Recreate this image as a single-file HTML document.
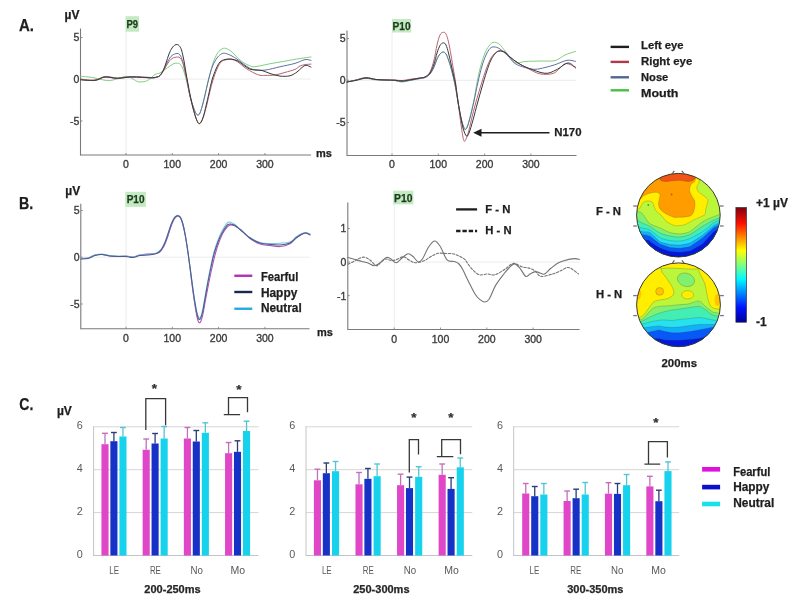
<!DOCTYPE html>
<html><head><meta charset="utf-8"><title>Figure</title>
<style>
html,body{margin:0;padding:0;background:#fff;}
body{width:800px;height:606px;overflow:hidden;font-family:"Liberation Sans", sans-serif;}
svg{display:block;filter:blur(0.3px);}
</style></head><body>
<svg width="800" height="606" viewBox="0 0 800 606" font-family='"Liberation Sans", sans-serif'>
<rect x="0" y="0" width="800" height="606" fill="#ffffff"/>
<text x="19" y="30.6" font-size="16.6" font-weight="bold" fill="#1e1e1e" text-anchor="start" textLength="15" lengthAdjust="spacingAndGlyphs" stroke="#1e1e1e" stroke-width="0.25">A.</text>
<text x="64.5" y="18.5" font-size="12" font-weight="bold" fill="#1e1e1e" text-anchor="start" stroke="#1e1e1e" stroke-width="0.25">µV</text>
<line x1="80.5" y1="79.1" x2="311" y2="79.1" stroke="#ececec" stroke-width="1"/>
<line x1="126" y1="30.5" x2="126" y2="155" stroke="#ececec" stroke-width="1"/>
<line x1="80.5" y1="28.5" x2="80.5" y2="155.5" stroke="#7a7a7a" stroke-width="1.1"/>
<line x1="80.5" y1="155" x2="311" y2="155" stroke="#7a7a7a" stroke-width="1.1"/>
<line x1="80.5" y1="37.5" x2="82.5" y2="37.5" stroke="#7a7a7a" stroke-width="0.8"/>
<text x="79.3" y="41.4" font-size="10.5" font-weight="normal" fill="#3c3c3c" text-anchor="end" stroke="#3c3c3c" stroke-width="0.35">5</text>
<line x1="80.5" y1="79.1" x2="82.5" y2="79.1" stroke="#7a7a7a" stroke-width="0.8"/>
<text x="79.3" y="83" font-size="10.5" font-weight="normal" fill="#3c3c3c" text-anchor="end" stroke="#3c3c3c" stroke-width="0.35">0</text>
<line x1="80.5" y1="121" x2="82.5" y2="121" stroke="#7a7a7a" stroke-width="0.8"/>
<text x="79.3" y="124.9" font-size="10.5" font-weight="normal" fill="#3c3c3c" text-anchor="end" stroke="#3c3c3c" stroke-width="0.35">-5</text>
<line x1="126" y1="155" x2="126" y2="153" stroke="#7a7a7a" stroke-width="0.8"/>
<text x="126" y="167.8" font-size="10.5" font-weight="normal" fill="#3c3c3c" text-anchor="middle" stroke="#3c3c3c" stroke-width="0.35">0</text>
<line x1="172.3" y1="155" x2="172.3" y2="153" stroke="#7a7a7a" stroke-width="0.8"/>
<text x="172.3" y="167.8" font-size="10.5" font-weight="normal" fill="#3c3c3c" text-anchor="middle" stroke="#3c3c3c" stroke-width="0.35">100</text>
<line x1="218.6" y1="155" x2="218.6" y2="153" stroke="#7a7a7a" stroke-width="0.8"/>
<text x="218.6" y="167.8" font-size="10.5" font-weight="normal" fill="#3c3c3c" text-anchor="middle" stroke="#3c3c3c" stroke-width="0.35">200</text>
<line x1="264.9" y1="155" x2="264.9" y2="153" stroke="#7a7a7a" stroke-width="0.8"/>
<text x="264.9" y="167.8" font-size="10.5" font-weight="normal" fill="#3c3c3c" text-anchor="middle" stroke="#3c3c3c" stroke-width="0.35">300</text>
<rect x="125.5" y="16.2" width="13.5" height="15.5" fill="#c4eac4"/>
<text x="132.25" y="27.8" font-size="11" font-weight="bold" fill="#1c3a1c" text-anchor="middle" textLength="11.6" lengthAdjust="spacingAndGlyphs" stroke="#1c3a1c" stroke-width="0.25">P9</text>
<text x="316" y="157" font-size="11" font-weight="bold" fill="#1e1e1e" text-anchor="start" stroke="#1e1e1e" stroke-width="0.25">ms</text>
<path d="M80.5,76.3C82.5,76.5 88,76.78 92.5,77.5C97,78.22 103.33,80.38 107.5,80.6C111.67,80.82 114.37,79.52 117.5,78.8C120.63,78.08 123.72,76.27 126.3,76.3C128.88,76.33 130.92,78.07 133,79C135.08,79.93 136.38,81.63 138.8,81.9C141.22,82.17 144.8,81.83 147.5,80.6C150.2,79.37 152.92,75.77 155,74.5C157.08,73.23 158.33,73.83 160,73C161.67,72.17 163.33,70.67 165,69.5C166.67,68.33 168.5,67 170,66C171.5,65 172.75,63.97 174,63.5C175.25,63.03 176.5,63.12 177.5,63.2C178.5,63.28 179.17,63.2 180,64C180.83,64.8 181.67,66.17 182.5,68C183.33,69.83 184.17,72.17 185,75C185.83,77.83 186.67,81.5 187.5,85C188.33,88.5 189.08,92.5 190,96C190.92,99.5 192.08,103.25 193,106C193.92,108.75 194.7,111 195.5,112.5C196.3,114 197.05,114.92 197.8,115C198.55,115.08 199.22,114.67 200,113C200.78,111.33 201.67,108 202.5,105C203.33,102 204.17,98.5 205,95C205.83,91.5 206.67,87.5 207.5,84C208.33,80.5 209.08,77.5 210,74C210.92,70.5 211.83,66.33 213,63C214.17,59.67 215.67,56.25 217,54C218.33,51.75 219.57,50.45 221,49.5C222.43,48.55 223.77,47.88 225.6,48.3C227.43,48.72 229.93,50.35 232,52C234.07,53.65 236,56.37 238,58.2C240,60.03 242.08,61.77 244,63C245.92,64.23 247.67,64.97 249.5,65.6C251.33,66.22 251.58,67.06 255,66.75C258.42,66.44 265,64.69 270,63.75C275,62.81 280,61.98 285,61.1C290,60.23 295.67,59.18 300,58.5C304.33,57.82 309.17,57.25 311,57" fill="none" stroke="#80d080" stroke-width="1" stroke-linejoin="round" stroke-linecap="round"/>
<path d="M80.5,79.5C82.92,79.67 90.92,80.92 95,80.5C99.08,80.08 101.25,77.33 105,77C108.75,76.67 113.33,78.5 117.5,78.5C121.67,78.5 125.83,77.17 130,77C134.17,76.83 138.75,77.33 142.5,77.5C146.25,77.67 150.08,78.08 152.5,78C154.92,77.92 155.75,77.42 157,77C158.25,76.58 158.83,76.83 160,75.5C161.17,74.17 162.67,71.42 164,69C165.33,66.58 166.67,63.25 168,61C169.33,58.75 170.5,56.75 172,55.5C173.5,54.25 175.67,53.58 177,53.5C178.33,53.42 179.08,53.75 180,55C180.92,56.25 181.67,58.33 182.5,61C183.33,63.67 184.17,67.33 185,71C185.83,74.67 186.67,78.83 187.5,83C188.33,87.17 189.08,92.17 190,96C190.92,99.83 192.08,103.25 193,106C193.92,108.75 194.7,111 195.5,112.5C196.3,114 197.05,114.92 197.8,115C198.55,115.08 199.22,114.67 200,113C200.78,111.33 201.67,108 202.5,105C203.33,102 204.17,98.5 205,95C205.83,91.5 206.67,87.5 207.5,84C208.33,80.5 209.08,77.17 210,74C210.92,70.83 211.83,67.67 213,65C214.17,62.33 215.75,59.75 217,58C218.25,56.25 219.28,55.3 220.5,54.5C221.72,53.7 222.55,53.03 224.3,53.2C226.05,53.37 228.72,54.4 231,55.5C233.28,56.6 235.83,58.3 238,59.8C240.17,61.3 242.08,63.13 244,64.5C245.92,65.87 247.67,67.12 249.5,68C251.33,68.88 252.42,69.4 255,69.75C257.58,70.1 260.83,70.6 265,70.1C269.17,69.6 275,67.87 280,66.75C285,65.63 290.83,64.59 295,63.4C299.17,62.21 302.33,60.1 305,59.6C307.67,59.1 310,60.27 311,60.4" fill="none" stroke="#6070a6" stroke-width="1" stroke-linejoin="round" stroke-linecap="round"/>
<path d="M80.5,79.5C82.92,79.58 90.92,80.5 95,80C99.08,79.5 101.25,76.83 105,76.5C108.75,76.17 113.33,78 117.5,78C121.67,78 125.83,76.67 130,76.5C134.17,76.33 138.75,76.83 142.5,77C146.25,77.17 150.08,77.5 152.5,77.5C154.92,77.5 155.75,77.33 157,77C158.25,76.67 158.83,76.67 160,75.5C161.17,74.33 162.67,72.08 164,70C165.33,67.92 166.67,64.92 168,63C169.33,61.08 170.42,59.5 172,58.5C173.58,57.5 176.17,57.08 177.5,57C178.83,56.92 179.17,57.17 180,58C180.83,58.83 181.67,59.83 182.5,62C183.33,64.17 184.17,67.5 185,71C185.83,74.5 186.67,78.83 187.5,83C188.33,87.17 189.08,91.83 190,96C190.92,100.17 192,104.25 193,108C194,111.75 195.03,115.9 196,118.5C196.97,121.1 197.92,123.02 198.8,123.6C199.68,124.18 200.43,123.43 201.3,122C202.17,120.57 203.05,118 204,115C204.95,112 206,108 207,104C208,100 209,95 210,91C211,87 211.83,83.67 213,80C214.17,76.33 215.67,72 217,69C218.33,66 219.5,63.53 221,62C222.5,60.47 224.17,60.22 226,59.8C227.83,59.38 230,59.13 232,59.5C234,59.87 236,60.75 238,62C240,63.25 242.08,65.58 244,67C245.92,68.42 247.67,69.42 249.5,70.5C251.33,71.58 253.25,72.7 255,73.5C256.75,74.3 258.33,74.98 260,75.3C261.67,75.62 262.5,75.45 265,75.4C267.5,75.35 271.67,75.5 275,75C278.33,74.5 281.67,73.33 285,72.4C288.33,71.47 292.5,70.47 295,69.4C297.5,68.33 298.33,66.79 300,66C301.67,65.21 303.17,64.97 305,64.65C306.83,64.33 310,64.19 311,64.1" fill="none" stroke="#b86472" stroke-width="1" stroke-linejoin="round" stroke-linecap="round"/>
<path d="M80.5,79.8C82.92,79.88 90.92,80.77 95,80.3C99.08,79.83 101.25,77.33 105,77C108.75,76.67 113.33,78.3 117.5,78.3C121.67,78.3 125.83,77.17 130,77C134.17,76.83 138.75,77.17 142.5,77.3C146.25,77.43 150.08,77.85 152.5,77.8C154.92,77.75 155.75,77.38 157,77C158.25,76.62 159,76.5 160,75.5C161,74.5 162,73.08 163,71C164,68.92 165,65.83 166,63C167,60.17 168,56.5 169,54C170,51.5 171,49.5 172,48C173,46.5 174.17,45.57 175,45C175.83,44.43 176.33,44.52 177,44.6C177.67,44.68 178.25,44.6 179,45.5C179.75,46.4 180.67,47.42 181.5,50C182.33,52.58 183.25,57.17 184,61C184.75,64.83 185.33,69.17 186,73C186.67,76.83 187.25,80 188,84C188.75,88 189.67,93 190.5,97C191.33,101 192.08,104.5 193,108C193.92,111.5 195.07,115.45 196,118C196.93,120.55 197.77,122.63 198.6,123.3C199.43,123.97 200.18,123.22 201,122C201.82,120.78 202.67,118.67 203.5,116C204.33,113.33 205.08,109.83 206,106C206.92,102.17 208,97.33 209,93C210,88.67 210.83,84 212,80C213.17,76 214.67,72 216,69C217.33,66 218.5,63.58 220,62C221.5,60.42 223.17,60 225,59.5C226.83,59 228.83,58.75 231,59C233.17,59.25 235.83,59.92 238,61C240.17,62.08 242.08,64.17 244,65.5C245.92,66.83 247.67,68.25 249.5,69C251.33,69.75 252.92,69.75 255,70C257.08,70.25 259.5,69.92 262,70.5C264.5,71.08 267,72.57 270,73.5C273,74.43 276.67,75.72 280,76.1C283.33,76.47 287.17,76.43 290,75.75C292.83,75.07 295,73.38 297,72C299,70.62 300.5,68.62 302,67.5C303.5,66.38 304.5,65.32 306,65.25C307.5,65.18 310.17,66.79 311,67.1" fill="none" stroke="#383838" stroke-width="1" stroke-linejoin="round" stroke-linecap="round"/>
<line x1="347" y1="80.3" x2="576.5" y2="80.3" stroke="#ececec" stroke-width="1"/>
<line x1="392" y1="32.5" x2="392" y2="155.5" stroke="#ececec" stroke-width="1"/>
<line x1="347" y1="30.5" x2="347" y2="156" stroke="#7a7a7a" stroke-width="1.1"/>
<line x1="347" y1="155.5" x2="576.5" y2="155.5" stroke="#7a7a7a" stroke-width="1.1"/>
<line x1="347" y1="38.5" x2="349" y2="38.5" stroke="#7a7a7a" stroke-width="0.8"/>
<text x="345.7" y="42.4" font-size="10.5" font-weight="normal" fill="#3c3c3c" text-anchor="end" stroke="#3c3c3c" stroke-width="0.35">5</text>
<line x1="347" y1="80.3" x2="349" y2="80.3" stroke="#7a7a7a" stroke-width="0.8"/>
<text x="345.7" y="84.2" font-size="10.5" font-weight="normal" fill="#3c3c3c" text-anchor="end" stroke="#3c3c3c" stroke-width="0.35">0</text>
<line x1="347" y1="122.5" x2="349" y2="122.5" stroke="#7a7a7a" stroke-width="0.8"/>
<text x="345.7" y="126.4" font-size="10.5" font-weight="normal" fill="#3c3c3c" text-anchor="end" stroke="#3c3c3c" stroke-width="0.35">-5</text>
<line x1="392" y1="155.5" x2="392" y2="153.5" stroke="#7a7a7a" stroke-width="0.8"/>
<text x="392" y="168.2" font-size="10.5" font-weight="normal" fill="#3c3c3c" text-anchor="middle" stroke="#3c3c3c" stroke-width="0.35">0</text>
<line x1="438.3" y1="155.5" x2="438.3" y2="153.5" stroke="#7a7a7a" stroke-width="0.8"/>
<text x="438.3" y="168.2" font-size="10.5" font-weight="normal" fill="#3c3c3c" text-anchor="middle" stroke="#3c3c3c" stroke-width="0.35">100</text>
<line x1="484.6" y1="155.5" x2="484.6" y2="153.5" stroke="#7a7a7a" stroke-width="0.8"/>
<text x="484.6" y="168.2" font-size="10.5" font-weight="normal" fill="#3c3c3c" text-anchor="middle" stroke="#3c3c3c" stroke-width="0.35">200</text>
<line x1="530.9" y1="155.5" x2="530.9" y2="153.5" stroke="#7a7a7a" stroke-width="0.8"/>
<text x="530.9" y="168.2" font-size="10.5" font-weight="normal" fill="#3c3c3c" text-anchor="middle" stroke="#3c3c3c" stroke-width="0.35">300</text>
<rect x="392" y="19" width="19.2" height="13.5" fill="#c4eac4"/>
<text x="401.6" y="29.7" font-size="11" font-weight="bold" fill="#1c3a1c" text-anchor="middle" textLength="18" lengthAdjust="spacingAndGlyphs" stroke="#1c3a1c" stroke-width="0.25">P10</text>
<path d="M347,82C348.5,81.75 352.83,81.08 356,80.5C359.17,79.92 362.67,78.58 366,78.5C369.33,78.42 372.67,79.75 376,80C379.33,80.25 382.83,79.92 386,80C389.17,80.08 392.33,80.17 395,80.5C397.67,80.83 399.17,82.08 402,82C404.83,81.92 409,80.58 412,80C415,79.42 417.83,78.92 420,78.5C422.17,78.08 423.33,78.25 425,77.5C426.67,76.75 428.5,75.75 430,74C431.5,72.25 432.83,69.5 434,67C435.17,64.5 436,61.17 437,59C438,56.83 438.97,55.17 440,54C441.03,52.83 442.2,52 443.2,52C444.2,52 445.12,52.67 446,54C446.88,55.33 447.67,57.67 448.5,60C449.33,62.33 450.08,64.67 451,68C451.92,71.33 453.17,76.33 454,80C454.83,83.67 455.25,85.83 456,90C456.75,94.17 457.67,100.33 458.5,105C459.33,109.67 460.03,113.92 461,118C461.97,122.08 463.3,128 464.3,129.5C465.3,131 466.05,129.08 467,127C467.95,124.92 468.83,121.5 470,117C471.17,112.5 472.75,106.17 474,100C475.25,93.83 476.33,85.83 477.5,80C478.67,74.17 479.75,69.5 481,65C482.25,60.5 483.67,56.17 485,53C486.33,49.83 487.67,47.77 489,46C490.33,44.23 491.33,42.73 493,42.4C494.67,42.07 496.83,42.4 499,44C501.17,45.6 503.33,48.92 506,52C508.67,55.08 511.83,60.92 515,62.5C518.17,64.08 520.83,61.75 525,61.5C529.17,61.25 535,61.15 540,61C545,60.85 550.83,61.6 555,60.6C559.17,59.6 561.58,56.53 565,55C568.42,53.47 573.75,52 575.5,51.4" fill="none" stroke="#80d080" stroke-width="1" stroke-linejoin="round" stroke-linecap="round"/>
<path d="M347,82C348.5,81.67 352.83,80.75 356,80C359.17,79.25 362.67,77.58 366,77.5C369.33,77.42 372.67,79.08 376,79.5C379.33,79.92 382.83,79.83 386,80C389.17,80.17 392.33,80.25 395,80.5C397.67,80.75 399.17,81.58 402,81.5C404.83,81.42 409,80.5 412,80C415,79.5 417.83,78.92 420,78.5C422.17,78.08 423.33,78.25 425,77.5C426.67,76.75 428.5,75.75 430,74C431.5,72.25 432.83,69.5 434,67C435.17,64.5 436,61.17 437,59C438,56.83 438.97,55.17 440,54C441.03,52.83 442.2,52 443.2,52C444.2,52 445.12,52.67 446,54C446.88,55.33 447.67,57.67 448.5,60C449.33,62.33 450.08,64.67 451,68C451.92,71.33 453.17,76.33 454,80C454.83,83.67 455.25,85.83 456,90C456.75,94.17 457.67,100.33 458.5,105C459.33,109.67 460,114.07 461,118C462,121.93 463.5,127.02 464.5,128.6C465.5,130.18 466.08,129.27 467,127.5C467.92,125.73 468.83,122.42 470,118C471.17,113.58 472.67,107 474,101C475.33,95 476.67,87.83 478,82C479.33,76.17 480.67,70.5 482,66C483.33,61.5 484.67,57.92 486,55C487.33,52.08 488.67,49.85 490,48.5C491.33,47.15 492.33,46.82 494,46.9C495.67,46.98 497.67,47.48 500,49C502.33,50.52 505.5,53.58 508,56C510.5,58.42 512.17,61.58 515,63.5C517.83,65.42 521.67,66.53 525,67.5C528.33,68.47 531.67,69.3 535,69.3C538.33,69.3 541.67,68.27 545,67.5C548.33,66.73 551.33,65.9 555,64.7C558.67,63.5 563.58,60.85 567,60.3C570.42,59.75 574.08,61.22 575.5,61.4" fill="none" stroke="#6070a6" stroke-width="1" stroke-linejoin="round" stroke-linecap="round"/>
<path d="M347,82C348.5,81.67 352.83,80.67 356,80C359.17,79.33 362.67,78.08 366,78C369.33,77.92 372.67,79.17 376,79.5C379.33,79.83 382.83,79.92 386,80C389.17,80.08 392.33,79.92 395,80C397.67,80.08 399.17,80.67 402,80.5C404.83,80.33 409,79.42 412,79C415,78.58 417.83,78.33 420,78C422.17,77.67 423.33,78 425,77C426.67,76 428.5,74.83 430,72C431.5,69.17 432.83,64.5 434,60C435.17,55.5 436,49.17 437,45C438,40.83 438.97,37.12 440,35C441.03,32.88 442.2,32.47 443.2,32.3C444.2,32.13 445.12,32.38 446,34C446.88,35.62 447.67,38.5 448.5,42C449.33,45.5 450.17,50.33 451,55C451.83,59.67 452.75,65.5 453.5,70C454.25,74.5 454.83,77.33 455.5,82C456.17,86.67 456.83,92.83 457.5,98C458.17,103.17 458.83,108 459.5,113C460.17,118 460.78,123.42 461.5,128C462.22,132.58 463.05,138.67 463.8,140.5C464.55,142.33 465.13,140.75 466,139C466.87,137.25 467.92,134 469,130C470.08,126 471.25,120 472.5,115C473.75,110 475.08,105 476.5,100C477.92,95 479.5,89.83 481,85C482.5,80.17 484,75.17 485.5,71C487,66.83 488.58,62.83 490,60C491.42,57.17 492.5,55.52 494,54C495.5,52.48 497.17,51.23 499,50.9C500.83,50.57 503.17,50.98 505,52C506.83,53.02 507.83,55.17 510,57C512.17,58.83 515,61.08 518,63C521,64.92 524.33,66.68 528,68.5C531.67,70.32 535.83,73.07 540,73.9C544.17,74.73 549.67,74.48 553,73.5C556.33,72.52 557.83,69.67 560,68C562.17,66.33 563.42,63.67 566,63.5C568.58,63.33 573.92,66.42 575.5,67" fill="none" stroke="#b86472" stroke-width="1" stroke-linejoin="round" stroke-linecap="round"/>
<path d="M347,82C348.5,81.72 352.83,80.97 356,80.3C359.17,79.63 362.67,78.13 366,78C369.33,77.87 372.67,79.17 376,79.5C379.33,79.83 382.83,79.88 386,80C389.17,80.12 392.33,80.03 395,80.2C397.67,80.37 399.17,81.12 402,81C404.83,80.88 409,80 412,79.5C415,79 417.83,78.42 420,78C422.17,77.58 423.33,77.83 425,77C426.67,76.17 428.5,75.17 430,73C431.5,70.83 432.83,67.33 434,64C435.17,60.67 436,56.08 437,53C438,49.92 438.97,47.2 440,45.5C441.03,43.8 442.2,42.88 443.2,42.8C444.2,42.72 445.12,43.3 446,45C446.88,46.7 447.67,49.83 448.5,53C449.33,56.17 450.17,60.33 451,64C451.83,67.67 452.75,71.67 453.5,75C454.25,78.33 454.83,80.17 455.5,84C456.17,87.83 456.75,93.17 457.5,98C458.25,102.83 459.08,108 460,113C460.92,118 461.93,124.17 463,128C464.07,131.83 465.4,135.17 466.4,136C467.4,136.83 467.9,135.67 469,133C470.1,130.33 471.58,125 473,120C474.42,115 476,108.5 477.5,103C479,97.5 480.5,92.17 482,87C483.5,81.83 485.08,76.33 486.5,72C487.92,67.67 489.17,63.92 490.5,61C491.83,58.08 493.08,56.17 494.5,54.5C495.92,52.83 497.25,51.33 499,51C500.75,50.67 503.17,51.5 505,52.5C506.83,53.5 507.83,55.25 510,57C512.17,58.75 515,61.17 518,63C521,64.83 523.5,66.28 528,68C532.5,69.72 540.33,72.97 545,73.3C549.67,73.63 552.17,71.72 556,70C559.83,68.28 564.75,63.33 568,63C571.25,62.67 574.25,67.17 575.5,68" fill="none" stroke="#383838" stroke-width="1" stroke-linejoin="round" stroke-linecap="round"/>
<line x1="480" y1="132.75" x2="549.5" y2="132.75" stroke="#1e1e1e" stroke-width="1.5"/>
<path d="M473.2,132.75 L481.5,128.8 L481.5,136.7Z" fill="#1e1e1e"/>
<text x="554.3" y="136.3" font-size="11.4" font-weight="bold" fill="#1e1e1e" text-anchor="start" stroke="#1e1e1e" stroke-width="0.25">N170</text>
<line x1="610.6" y1="46.9" x2="629" y2="46.9" stroke="#1e1e1e" stroke-width="2.4"/>
<text x="641" y="48.6" font-size="11" font-weight="bold" fill="#1e1e1e" text-anchor="start" textLength="42.6" lengthAdjust="spacingAndGlyphs" stroke="#1e1e1e" stroke-width="0.25">Left eye</text>
<line x1="610.6" y1="61.9" x2="629" y2="61.9" stroke="#b03a48" stroke-width="2.4"/>
<text x="641" y="65" font-size="11" font-weight="bold" fill="#1e1e1e" text-anchor="start" textLength="51.3" lengthAdjust="spacingAndGlyphs" stroke="#1e1e1e" stroke-width="0.25">Right eye</text>
<line x1="610.6" y1="77.3" x2="629" y2="77.3" stroke="#50688e" stroke-width="2.4"/>
<text x="641" y="80.8" font-size="11" font-weight="bold" fill="#1e1e1e" text-anchor="start" textLength="27.3" lengthAdjust="spacingAndGlyphs" stroke="#1e1e1e" stroke-width="0.25">Nose</text>
<line x1="610.6" y1="90.3" x2="629" y2="90.3" stroke="#48c048" stroke-width="2.4"/>
<text x="641" y="96.5" font-size="11" font-weight="bold" fill="#1e1e1e" text-anchor="start" textLength="37.4" lengthAdjust="spacingAndGlyphs" stroke="#1e1e1e" stroke-width="0.25">Mouth</text>
<text x="19" y="209.2" font-size="16.6" font-weight="bold" fill="#1e1e1e" text-anchor="start" textLength="14.2" lengthAdjust="spacingAndGlyphs" stroke="#1e1e1e" stroke-width="0.25">B.</text>
<text x="65.3" y="195" font-size="12" font-weight="bold" fill="#1e1e1e" text-anchor="start" stroke="#1e1e1e" stroke-width="0.25">µV</text>
<line x1="80.8" y1="257.2" x2="309.5" y2="257.2" stroke="#ececec" stroke-width="1"/>
<line x1="126" y1="205.8" x2="126" y2="328.8" stroke="#ececec" stroke-width="1"/>
<line x1="80.8" y1="203.8" x2="80.8" y2="329.3" stroke="#7a7a7a" stroke-width="1.1"/>
<line x1="80.8" y1="328.8" x2="309.5" y2="328.8" stroke="#7a7a7a" stroke-width="1.1"/>
<line x1="80.8" y1="210.5" x2="82.8" y2="210.5" stroke="#7a7a7a" stroke-width="0.8"/>
<text x="79.6" y="214.4" font-size="10.5" font-weight="normal" fill="#3c3c3c" text-anchor="end" stroke="#3c3c3c" stroke-width="0.35">5</text>
<line x1="80.8" y1="257.2" x2="82.8" y2="257.2" stroke="#7a7a7a" stroke-width="0.8"/>
<text x="79.6" y="261.1" font-size="10.5" font-weight="normal" fill="#3c3c3c" text-anchor="end" stroke="#3c3c3c" stroke-width="0.35">0</text>
<line x1="80.8" y1="304" x2="82.8" y2="304" stroke="#7a7a7a" stroke-width="0.8"/>
<text x="79.6" y="307.9" font-size="10.5" font-weight="normal" fill="#3c3c3c" text-anchor="end" stroke="#3c3c3c" stroke-width="0.35">-5</text>
<line x1="126" y1="328.8" x2="126" y2="326.8" stroke="#7a7a7a" stroke-width="0.8"/>
<text x="126" y="342" font-size="10.5" font-weight="normal" fill="#3c3c3c" text-anchor="middle" stroke="#3c3c3c" stroke-width="0.35">0</text>
<line x1="172.3" y1="328.8" x2="172.3" y2="326.8" stroke="#7a7a7a" stroke-width="0.8"/>
<text x="172.3" y="342" font-size="10.5" font-weight="normal" fill="#3c3c3c" text-anchor="middle" stroke="#3c3c3c" stroke-width="0.35">100</text>
<line x1="218.6" y1="328.8" x2="218.6" y2="326.8" stroke="#7a7a7a" stroke-width="0.8"/>
<text x="218.6" y="342" font-size="10.5" font-weight="normal" fill="#3c3c3c" text-anchor="middle" stroke="#3c3c3c" stroke-width="0.35">200</text>
<line x1="264.9" y1="328.8" x2="264.9" y2="326.8" stroke="#7a7a7a" stroke-width="0.8"/>
<text x="264.9" y="342" font-size="10.5" font-weight="normal" fill="#3c3c3c" text-anchor="middle" stroke="#3c3c3c" stroke-width="0.35">300</text>
<rect x="125.3" y="191.8" width="20.6" height="15.1" fill="#c4eac4"/>
<text x="135.6" y="202.8" font-size="11" font-weight="bold" fill="#1c3a1c" text-anchor="middle" textLength="17.8" lengthAdjust="spacingAndGlyphs" stroke="#1c3a1c" stroke-width="0.25">P10</text>
<text x="317" y="335.8" font-size="11" font-weight="bold" fill="#1e1e1e" text-anchor="start" stroke="#1e1e1e" stroke-width="0.25">ms</text>
<path d="M80.8,258.5C82,258.42 85.63,258.58 88,258C90.37,257.42 92.67,255.58 95,255C97.33,254.42 99.5,254.33 102,254.5C104.5,254.67 107.33,255.67 110,256C112.67,256.33 115.33,256.5 118,256.5C120.67,256.5 123.5,255.92 126,256C128.5,256.08 130.67,257.17 133,257C135.33,256.83 137.5,255.5 140,255C142.5,254.5 145.5,254.25 148,254C150.5,253.75 153.17,253.75 155,253.5C156.83,253.25 157.83,253.17 159,252.5C160.17,251.83 161,250.92 162,249.5C163,248.08 164,246.25 165,244C166,241.75 167,238.92 168,236C169,233.08 170,229.25 171,226.5C172,223.75 173.08,221.17 174,219.5C174.92,217.83 175.78,217.05 176.5,216.5C177.22,215.95 177.63,215.95 178.3,216.2C178.97,216.45 179.72,216.53 180.5,218C181.28,219.47 182.17,221.83 183,225C183.83,228.17 184.67,232.33 185.5,237C186.33,241.67 187.17,247.17 188,253C188.83,258.83 189.67,265.5 190.5,272C191.33,278.5 192.17,285.83 193,292C193.83,298.17 194.75,304.5 195.5,309C196.25,313.5 196.88,316.72 197.5,319C198.12,321.28 198.62,322.37 199.2,322.7C199.78,323.03 200.37,322.45 201,321C201.63,319.55 202.25,317.5 203,314C203.75,310.5 204.6,304.83 205.5,300C206.4,295.17 207.4,290 208.4,285C209.4,280 210.48,274.67 211.5,270C212.52,265.33 213.42,261.17 214.5,257C215.58,252.83 216.58,249 218,245C219.42,241 221.1,236.28 223,233C224.9,229.72 227.4,226.47 229.4,225.3C231.4,224.13 233.07,225.22 235,226C236.93,226.78 238.5,227.92 241,230C243.5,232.08 246.83,236.17 250,238.5C253.17,240.83 256.67,242.83 260,244C263.33,245.17 266.67,245.07 270,245.5C273.33,245.93 276.67,246.9 280,246.6C283.33,246.3 287.33,245.12 290,243.7C292.67,242.28 294,239.68 296,238.1C298,236.52 300.33,235.05 302,234.2C303.67,233.35 304.67,233 306,233C307.33,233 309.33,234 310,234.2" fill="none" stroke="#b050b8" stroke-width="1.05" stroke-linejoin="round" stroke-linecap="round"/>
<path d="M80.8,258.5C82,258.42 85.63,258.58 88,258C90.37,257.42 92.67,255.67 95,255C97.33,254.33 99.5,253.92 102,254C104.5,254.08 107.33,255.17 110,255.5C112.67,255.83 115.33,255.92 118,256C120.67,256.08 123.5,255.83 126,256C128.5,256.17 130.67,257.17 133,257C135.33,256.83 137.5,255.42 140,255C142.5,254.58 145.5,254.75 148,254.5C150.5,254.25 153.17,254 155,253.5C156.83,253 157.83,252.42 159,251.5C160.17,250.58 161,249.58 162,248C163,246.42 164,244.42 165,242C166,239.58 167,236.42 168,233.5C169,230.58 170,227.08 171,224.5C172,221.92 173.08,219.48 174,218C174.92,216.52 175.78,216.03 176.5,215.6C177.22,215.17 177.63,215.13 178.3,215.4C178.97,215.67 179.72,215.77 180.5,217.2C181.28,218.63 182.17,220.87 183,224C183.83,227.13 184.67,231.33 185.5,236C186.33,240.67 187.17,246.33 188,252C188.83,257.67 189.67,263.83 190.5,270C191.33,276.17 192.17,283.17 193,289C193.83,294.83 194.75,300.75 195.5,305C196.25,309.25 196.88,312.33 197.5,314.5C198.12,316.67 198.62,317.75 199.2,318C199.78,318.25 200.37,317.67 201,316C201.63,314.33 202.25,311.67 203,308C203.75,304.33 204.67,298.67 205.5,294C206.33,289.33 207.08,284.83 208,280C208.92,275.17 210,269.67 211,265C212,260.33 212.83,256.17 214,252C215.17,247.83 216.67,243.5 218,240C219.33,236.5 220.33,233.95 222,231C223.67,228.05 226,223.47 228,222.3C230,221.13 232,222.88 234,224C236,225.12 237.33,226.75 240,229C242.67,231.25 246.67,235.25 250,237.5C253.33,239.75 256.67,241.5 260,242.5C263.33,243.5 266.67,243.38 270,243.5C273.33,243.62 276.67,243.45 280,243.2C283.33,242.95 287.33,243.03 290,242C292.67,240.97 294,238.42 296,237C298,235.58 300.33,234.25 302,233.5C303.67,232.75 304.67,232.42 306,232.5C307.33,232.58 309.33,233.75 310,234" fill="none" stroke="#78c4dc" stroke-width="1.05" stroke-linejoin="round" stroke-linecap="round"/>
<path d="M80.8,259C82,258.92 85.63,259.08 88,258.5C90.37,257.92 92.67,256.17 95,255.5C97.33,254.83 99.5,254.42 102,254.5C104.5,254.58 107.33,255.67 110,256C112.67,256.33 115.33,256.42 118,256.5C120.67,256.58 123.5,256.33 126,256.5C128.5,256.67 130.67,257.67 133,257.5C135.33,257.33 137.5,255.92 140,255.5C142.5,255.08 145.5,255.25 148,255C150.5,254.75 153.17,254.5 155,254C156.83,253.5 157.83,252.92 159,252C160.17,251.08 161,250.08 162,248.5C163,246.92 164,244.92 165,242.5C166,240.08 167,236.92 168,234C169,231.08 170,227.58 171,225C172,222.42 173.08,220 174,218.5C174.92,217 175.78,216.45 176.5,216C177.22,215.55 177.63,215.55 178.3,215.8C178.97,216.05 179.72,216.05 180.5,217.5C181.28,218.95 182.17,221.33 183,224.5C183.83,227.67 184.67,231.83 185.5,236.5C186.33,241.17 187.17,246.75 188,252.5C188.83,258.25 189.67,264.75 190.5,271C191.33,277.25 192.17,284.17 193,290C193.83,295.83 194.75,301.67 195.5,306C196.25,310.33 196.88,313.75 197.5,316C198.12,318.25 198.62,319.25 199.2,319.5C199.78,319.75 200.37,319.08 201,317.5C201.63,315.92 202.25,313.58 203,310C203.75,306.42 204.67,300.67 205.5,296C206.33,291.33 207.08,286.83 208,282C208.92,277.17 210,271.67 211,267C212,262.33 212.83,258.17 214,254C215.17,249.83 216.67,245.5 218,242C219.33,238.5 220.33,235.92 222,233C223.67,230.08 226,225.83 228,224.5C230,223.17 232,224.17 234,225C236,225.83 237.33,227.33 240,229.5C242.67,231.67 246.67,235.75 250,238C253.33,240.25 256.67,241.92 260,243C263.33,244.08 266.67,244.17 270,244.5C273.33,244.83 276.67,245.25 280,245C283.33,244.75 287.33,244.17 290,243C292.67,241.83 294,239.5 296,238C298,236.5 300.33,234.83 302,234C303.67,233.17 304.67,232.83 306,233C307.33,233.17 309.33,234.67 310,235" fill="none" stroke="#4a5a8a" stroke-width="1.05" stroke-linejoin="round" stroke-linecap="round"/>
<line x1="234.3" y1="275.75" x2="252.3" y2="275.75" stroke="#b030b8" stroke-width="2.4"/>
<text x="260.9" y="280.8" font-size="12" font-weight="bold" fill="#1e1e1e" text-anchor="start" textLength="37.4" lengthAdjust="spacingAndGlyphs" stroke="#1e1e1e" stroke-width="0.25">Fearful</text>
<line x1="234.3" y1="292" x2="252.3" y2="292" stroke="#1a2850" stroke-width="2.4"/>
<text x="260.9" y="296.5" font-size="12" font-weight="bold" fill="#1e1e1e" text-anchor="start" textLength="36.4" lengthAdjust="spacingAndGlyphs" stroke="#1e1e1e" stroke-width="0.25">Happy</text>
<line x1="234.3" y1="308.75" x2="252.3" y2="308.75" stroke="#28a8e0" stroke-width="2.4"/>
<text x="260.9" y="311.7" font-size="12" font-weight="bold" fill="#1e1e1e" text-anchor="start" textLength="40.8" lengthAdjust="spacingAndGlyphs" stroke="#1e1e1e" stroke-width="0.25">Neutral</text>
<line x1="347.8" y1="262" x2="579.6" y2="262" stroke="#ececec" stroke-width="1"/>
<line x1="394.25" y1="204.5" x2="394.25" y2="329.5" stroke="#ececec" stroke-width="1"/>
<line x1="347.8" y1="202.5" x2="347.8" y2="330" stroke="#7a7a7a" stroke-width="1.1"/>
<line x1="347.8" y1="329.5" x2="579.6" y2="329.5" stroke="#7a7a7a" stroke-width="1.1"/>
<line x1="347.8" y1="228.5" x2="349.8" y2="228.5" stroke="#7a7a7a" stroke-width="0.8"/>
<text x="346.3" y="232.4" font-size="10.5" font-weight="normal" fill="#3c3c3c" text-anchor="end" stroke="#3c3c3c" stroke-width="0.35">1</text>
<line x1="347.8" y1="262" x2="349.8" y2="262" stroke="#7a7a7a" stroke-width="0.8"/>
<text x="346.3" y="265.9" font-size="10.5" font-weight="normal" fill="#3c3c3c" text-anchor="end" stroke="#3c3c3c" stroke-width="0.35">0</text>
<line x1="347.8" y1="295.6" x2="349.8" y2="295.6" stroke="#7a7a7a" stroke-width="0.8"/>
<text x="346.3" y="299.5" font-size="10.5" font-weight="normal" fill="#3c3c3c" text-anchor="end" stroke="#3c3c3c" stroke-width="0.35">-1</text>
<line x1="394.25" y1="329.5" x2="394.25" y2="327.5" stroke="#7a7a7a" stroke-width="0.8"/>
<text x="394.25" y="342.9" font-size="10.5" font-weight="normal" fill="#3c3c3c" text-anchor="middle" stroke="#3c3c3c" stroke-width="0.35">0</text>
<line x1="440.55" y1="329.5" x2="440.55" y2="327.5" stroke="#7a7a7a" stroke-width="0.8"/>
<text x="440.55" y="342.9" font-size="10.5" font-weight="normal" fill="#3c3c3c" text-anchor="middle" stroke="#3c3c3c" stroke-width="0.35">100</text>
<line x1="486.85" y1="329.5" x2="486.85" y2="327.5" stroke="#7a7a7a" stroke-width="0.8"/>
<text x="486.85" y="342.9" font-size="10.5" font-weight="normal" fill="#3c3c3c" text-anchor="middle" stroke="#3c3c3c" stroke-width="0.35">200</text>
<line x1="533.15" y1="329.5" x2="533.15" y2="327.5" stroke="#7a7a7a" stroke-width="0.8"/>
<text x="533.15" y="342.9" font-size="10.5" font-weight="normal" fill="#3c3c3c" text-anchor="middle" stroke="#3c3c3c" stroke-width="0.35">300</text>
<rect x="393.2" y="190.7" width="20.2" height="13.7" fill="#c4eac4"/>
<text x="403.3" y="201.5" font-size="11" font-weight="bold" fill="#1c3a1c" text-anchor="middle" textLength="18.4" lengthAdjust="spacingAndGlyphs" stroke="#1c3a1c" stroke-width="0.25">P10</text>
<path d="M348,257.5C349.17,257.83 352.67,258.83 355,259.5C357.33,260.17 359.83,260.92 362,261.5C364.17,262.08 365.95,262.28 368,263C370.05,263.72 372.3,265.8 374.3,265.8C376.3,265.8 378,264.38 380,263C382,261.62 384.47,258.17 386.3,257.5C388.13,256.83 389.38,258.12 391,259C392.62,259.88 394.17,262.97 396,262.8C397.83,262.63 400,259.5 402,258C404,256.5 406.17,254.05 408,253.8C409.83,253.55 411.25,255.13 413,256.5C414.75,257.87 416.83,261.75 418.5,262C420.17,262.25 421.42,260.33 423,258C424.58,255.67 426.12,250.83 428,248C429.88,245.17 432.3,241.33 434.3,241C436.3,240.67 437.88,242.87 440,246C442.12,249.13 444.58,257.22 447,259.8C449.42,262.38 452.5,260.8 454.5,261.5C456.5,262.2 457.58,262.58 459,264C460.42,265.42 461.67,267.58 463,270C464.33,272.42 465.62,275.67 467,278.5C468.38,281.33 469.97,284.42 471.3,287C472.63,289.58 473.65,291.97 475,294C476.35,296.03 477.85,297.87 479.4,299.2C480.95,300.53 482.68,302 484.3,302C485.92,302 487.22,301.97 489.1,299.2C490.98,296.43 493.15,289.6 495.6,285.4C498.05,281.2 501.57,276.9 503.8,274C506.03,271.1 507.25,269.68 509,268C510.75,266.32 512.47,263.85 514.3,263.9C516.13,263.95 518.1,266.22 520,268.3C521.9,270.38 524.03,275.45 525.7,276.4C527.37,277.35 528.38,274.8 530,274C531.62,273.2 533.73,271.77 535.4,271.6C537.07,271.43 538.5,272.6 540,273C541.5,273.4 542.58,274.78 544.4,274C546.22,273.22 548.47,270.2 550.9,268.3C553.33,266.4 556.02,264.08 559,262.6C561.98,261.12 566.08,260.07 568.8,259.4C571.52,258.73 573.55,258.6 575.3,258.6C577.05,258.6 578.63,259.27 579.3,259.4" fill="none" stroke="#747474" stroke-width="1.1" stroke-linejoin="round" stroke-linecap="round"/>
<path d="M348,264.3C349,263.8 352.17,262.27 354,261.3C355.83,260.33 357.25,259.18 359,258.5C360.75,257.82 362.67,256.95 364.5,257.2C366.33,257.45 368,258.57 370,260C372,261.43 374.67,265.47 376.5,265.8C378.33,266.13 379.5,263.13 381,262C382.5,260.87 383.83,259.25 385.5,259C387.17,258.75 389.25,260.37 391,260.5C392.75,260.63 393.92,260.42 396,259.8C398.08,259.18 401.33,256.77 403.5,256.8C405.67,256.83 407,259 409,260C411,261 412.92,262.72 415.5,262.8C418.08,262.88 421.92,261.55 424.5,260.5C427.08,259.45 428.75,257.7 431,256.5C433.25,255.3 435.5,253.8 438,253.3C440.5,252.8 443.5,253.42 446,253.5C448.5,253.58 450.83,253.38 453,253.8C455.17,254.22 457.03,255.07 459,256C460.97,256.93 463.3,258.07 464.8,259.4C466.3,260.73 466.65,262.23 468,264C469.35,265.77 471,268.2 472.9,270C474.8,271.8 476.97,274.13 479.4,274.8C481.83,275.47 484.93,274 487.5,274C490.07,274 492.08,275.47 494.8,274.8C497.52,274.13 500.68,271.9 503.8,270C506.92,268.1 510.53,263.95 513.5,263.4C516.47,262.85 518.88,265.88 521.6,266.7C524.32,267.52 527.57,267.58 529.8,268.3C532.03,269.02 533.12,269.65 535,271C536.88,272.35 538.18,275.9 541.1,276.4C544.02,276.9 549.25,274.93 552.5,274C555.75,273.07 558.17,271.88 560.6,270.8C563.03,269.72 565.2,267.78 567.1,267.5C569,267.22 570.1,268.02 572,269.1C573.9,270.18 577.42,273.18 578.5,274" fill="none" stroke="#747474" stroke-width="1.1" stroke-linejoin="round" stroke-linecap="round" stroke-dasharray="2.4,1.6"/>
<line x1="456.1" y1="209.4" x2="477.1" y2="209.4" stroke="#1e1e1e" stroke-width="2.3"/>
<line x1="456.1" y1="231" x2="477.1" y2="231" stroke="#1e1e1e" stroke-width="2.3" stroke-dasharray="4.4,1.9"/>
<text x="485.3" y="213.2" font-size="11.3" font-weight="bold" fill="#1e1e1e" text-anchor="start" stroke="#1e1e1e" stroke-width="0.25">F - N</text>
<text x="485.3" y="234.3" font-size="11.3" font-weight="bold" fill="#1e1e1e" text-anchor="start" stroke="#1e1e1e" stroke-width="0.25">H - N</text>
<defs><clipPath id="cfn"><circle cx="678.4" cy="215.2" r="41.8"/></clipPath><clipPath id="chn"><circle cx="678.5" cy="304.8" r="41.9"/></clipPath><linearGradient id="jet" x1="0" y1="1" x2="0" y2="0"><stop offset="0" stop-color="#00009a"/><stop offset="0.125" stop-color="#0010ff"/><stop offset="0.375" stop-color="#00f8ff"/><stop offset="0.5" stop-color="#80ff80"/><stop offset="0.625" stop-color="#ffff00"/><stop offset="0.86" stop-color="#ff1000"/><stop offset="1" stop-color="#800010"/></linearGradient></defs>
<circle cx="678.4" cy="215.2" r="41.8" fill="#bcf63a"/>
<path d="M630,160C641.83,152.5 687.5,156.43 699,160C710.5,163.57 699.35,176.98 699,181.4C698.65,185.82 697.02,184.8 696.9,186.5C696.78,188.2 697.1,190.02 698.3,191.6C699.5,193.18 702.52,194.67 704.1,196C705.68,197.33 707.32,198.15 707.8,199.6C708.28,201.05 707.37,203 707,204.7C706.63,206.4 705.93,208.17 705.6,209.8C705.27,211.43 705.97,213.27 705,214.5C704.03,215.73 701.88,216.2 699.8,217.2C697.72,218.2 694.92,219.28 692.5,220.5C690.08,221.72 687.72,223.63 685.3,224.5C682.88,225.37 679.92,225.57 678,225.7C676.08,225.83 675.72,226 673.8,225.3C671.88,224.6 668.47,223.05 666.5,221.5C664.53,219.95 663.33,217.42 662,216C660.67,214.58 659.45,213.8 658.5,213C657.55,212.2 657.02,212.22 656.3,211.2C655.58,210.18 654.8,208.35 654.2,206.9C653.6,205.45 653.68,203.48 652.7,202.5C651.72,201.52 649.87,201 648.3,201C646.73,201 644.75,201.28 643.3,202.5C641.85,203.72 641.15,206.72 639.6,208.3C638.05,209.88 635.93,212.55 634,212C632.07,211.45 628.67,213.67 628,205C627.33,196.33 618.17,167.5 630,160 Z" fill="#ffee00" clip-path="url(#cfn)" stroke="#5a5a20" stroke-width="0.5" stroke-opacity="0.5"/>
<path d="M628,160C639.17,152.83 685.77,156.78 697,160C708.23,163.22 696.38,175.25 695.4,179.3C694.42,183.35 692.07,182.48 691.1,184.3C690.13,186.12 689.48,188.25 689.6,190.2C689.72,192.15 690.95,194.2 691.8,196C692.65,197.8 694.22,199.18 694.7,201C695.18,202.82 694.95,204.95 694.7,206.9C694.45,208.85 693.9,211.22 693.2,212.7C692.5,214.18 691.82,215.1 690.5,215.8C689.18,216.5 687.22,216.67 685.3,216.9C683.38,217.13 680.92,217.15 679,217.2C677.08,217.25 675.63,217.6 673.8,217.2C671.97,216.8 669.63,215.58 668,214.8C666.37,214.02 665.22,213.33 664,212.5C662.78,211.67 661.62,211.1 660.7,209.8C659.78,208.5 658.75,206.4 658.5,204.7C658.25,203 658.95,201.3 659.2,199.6C659.45,197.9 660.48,195.72 660,194.5C659.52,193.28 657.88,192.55 656.3,192.3C654.72,192.05 652.67,192.38 650.5,193C648.33,193.62 645.23,194.75 643.3,196C641.37,197.25 641.12,199.33 638.9,200.5C636.68,201.67 631.82,209.75 630,203C628.18,196.25 616.83,167.17 628,160 Z" fill="#ff9c00" clip-path="url(#cfn)" stroke="#6a4a10" stroke-width="0.5" stroke-opacity="0.5"/>
<path d="M655,160C648.08,162 657.67,168.75 658.5,172C659.33,175.25 658.92,177.93 660,179.5C661.08,181.07 662.95,181.2 665,181.4C667.05,181.6 669.8,180.88 672.3,180.7C674.8,180.52 677.38,180.18 680,180.3C682.62,180.42 685.8,181.45 688,181.4C690.2,181.35 691.78,181.07 693.2,180C694.62,178.93 695.37,178.33 696.5,175C697.63,171.67 706.92,162.5 700,160C693.08,157.5 661.92,158 655,160 Z" fill="#f05416" clip-path="url(#cfn)" stroke="#6a3010" stroke-width="0.5" stroke-opacity="0.5"/>
<path d="M614,210 L634,210 L636,211 L641.8,213 L646,219 L650,223.7 L660,228 L670,232.5 L680,233.9 L690,231.5 L702.5,221.8 L714,216.5 L723,213.5 L743,213.5 L743,300 L614,300Z" fill="#80f070" clip-path="url(#cfn)"/>
<path d="M614,218 L634,218 L636,219 L641.8,222.8 L650,226.4 L660,233 L670,236 L680,237 L690,234.5 L702.5,226.3 L714,220 L723,216.5 L743,216.5 L743,300 L614,300Z" fill="#42eeb4" clip-path="url(#cfn)"/>
<path d="M614,225 L634,225 L636,226 L641.8,228 L650,230 L660,237.7 L670,240.5 L680,241 L690,238.5 L702.5,231.6 L714,222.7 L723,219 L743,219 L743,300 L614,300Z" fill="#26e2ee" clip-path="url(#cfn)"/>
<path d="M614,229 L634,229 L636,230 L643,231.7 L650,232.6 L660,241.7 L670,244.5 L680,245.1 L690,243 L702.5,235.2 L714,225.4 L723,221.5 L743,221.5 L743,300 L614,300Z" fill="#12b0f8" clip-path="url(#cfn)"/>
<path d="M614,233 L634,233 L636,234 L645,235 L650,236.2 L660,244 L670,247.5 L680,248.2 L690,246.5 L702.5,237.9 L714,227.5 L723,223.5 L743,223.5 L743,300 L614,300Z" fill="#0858f8" clip-path="url(#cfn)"/>
<path d="M614,238 L634,238 L636,239 L648.7,240.3 L652,243 L660,248 L670,251.5 L680,252.3 L690,251 L702.5,244.1 L714,231.6 L723,227 L743,227 L743,300 L614,300Z" fill="#0418dc" clip-path="url(#cfn)"/>
<path d="M620,247 L640,247 L650,250.5 L665,254.5 L680,256.4 L695,254 L710,245 L723,236 L743,236 L743,300 L620,300Z" fill="#0000a4" clip-path="url(#cfn)"/>
<path d="M634,210C634.33,210.17 634.7,210.5 636,211C637.3,211.5 640.13,211.67 641.8,213C643.47,214.33 644.63,217.22 646,219C647.37,220.78 647.67,222.2 650,223.7C652.33,225.2 656.67,226.53 660,228C663.33,229.47 666.67,231.52 670,232.5C673.33,233.48 676.67,234.07 680,233.9C683.33,233.73 686.25,233.52 690,231.5C693.75,229.48 698.5,224.3 702.5,221.8C706.5,219.3 710.58,217.88 714,216.5C717.42,215.12 721.5,214 723,213.5" fill="none" stroke="#3c3c3c" stroke-width="0.5" stroke-opacity="0.45" clip-path="url(#cfn)"/>
<path d="M634,218C634.33,218.17 634.7,218.2 636,219C637.3,219.8 639.47,221.57 641.8,222.8C644.13,224.03 646.97,224.7 650,226.4C653.03,228.1 656.67,231.4 660,233C663.33,234.6 666.67,235.33 670,236C673.33,236.67 676.67,237.25 680,237C683.33,236.75 686.25,236.28 690,234.5C693.75,232.72 698.5,228.72 702.5,226.3C706.5,223.88 710.58,221.63 714,220C717.42,218.37 721.5,217.08 723,216.5" fill="none" stroke="#3c3c3c" stroke-width="0.5" stroke-opacity="0.45" clip-path="url(#cfn)"/>
<path d="M634,225C634.33,225.17 634.7,225.5 636,226C637.3,226.5 639.47,227.33 641.8,228C644.13,228.67 646.97,228.38 650,230C653.03,231.62 656.67,235.95 660,237.7C663.33,239.45 666.67,239.95 670,240.5C673.33,241.05 676.67,241.33 680,241C683.33,240.67 686.25,240.07 690,238.5C693.75,236.93 698.5,234.23 702.5,231.6C706.5,228.97 710.58,224.8 714,222.7C717.42,220.6 721.5,219.62 723,219" fill="none" stroke="#3c3c3c" stroke-width="0.5" stroke-opacity="0.45" clip-path="url(#cfn)"/>
<path d="M634,229C634.33,229.17 634.5,229.55 636,230C637.5,230.45 640.67,231.27 643,231.7C645.33,232.13 647.17,230.93 650,232.6C652.83,234.27 656.67,239.72 660,241.7C663.33,243.68 666.67,243.93 670,244.5C673.33,245.07 676.67,245.35 680,245.1C683.33,244.85 686.25,244.65 690,243C693.75,241.35 698.5,238.13 702.5,235.2C706.5,232.27 710.58,227.68 714,225.4C717.42,223.12 721.5,222.15 723,221.5" fill="none" stroke="#3c3c3c" stroke-width="0.5" stroke-opacity="0.45" clip-path="url(#cfn)"/>
<path d="M634,233C634.33,233.17 634.17,233.67 636,234C637.83,234.33 642.67,234.63 645,235C647.33,235.37 647.5,234.7 650,236.2C652.5,237.7 656.67,242.12 660,244C663.33,245.88 666.67,246.8 670,247.5C673.33,248.2 676.67,248.37 680,248.2C683.33,248.03 686.25,248.22 690,246.5C693.75,244.78 698.5,241.07 702.5,237.9C706.5,234.73 710.58,229.9 714,227.5C717.42,225.1 721.5,224.17 723,223.5" fill="none" stroke="#3c3c3c" stroke-width="0.5" stroke-opacity="0.45" clip-path="url(#cfn)"/>
<path d="M634,238C634.33,238.17 633.55,238.62 636,239C638.45,239.38 646.03,239.63 648.7,240.3C651.37,240.97 650.12,241.72 652,243C653.88,244.28 657,246.58 660,248C663,249.42 666.67,250.78 670,251.5C673.33,252.22 676.67,252.38 680,252.3C683.33,252.22 686.25,252.37 690,251C693.75,249.63 698.5,247.33 702.5,244.1C706.5,240.87 710.58,234.45 714,231.6C717.42,228.75 721.5,227.77 723,227" fill="none" stroke="#3c3c3c" stroke-width="0.5" stroke-opacity="0.45" clip-path="url(#cfn)"/>
<circle cx="671.6" cy="194.5" r="0.9" fill="#b05000" fill-opacity="0.8"/>
<circle cx="648.3" cy="205" r="0.9" fill="#3a8a20" fill-opacity="0.8"/>
<circle cx="678.4" cy="215.2" r="41.8" fill="none" stroke="#3a3a2e" stroke-width="1"/>
<line x1="633.2" y1="206" x2="636.9" y2="206" stroke="#75758a" stroke-width="1.3"/>
<line x1="633.2" y1="226" x2="636.9" y2="226" stroke="#75758a" stroke-width="1.3"/>
<line x1="723.6" y1="206" x2="719.9" y2="206" stroke="#75758a" stroke-width="1.3"/>
<line x1="723.6" y1="226" x2="719.9" y2="226" stroke="#75758a" stroke-width="1.3"/>
<line x1="672" y1="174" x2="674.3" y2="170.8" stroke="#5e5e5e" stroke-width="1.2"/>
<line x1="681.8" y1="170.8" x2="684.3" y2="174" stroke="#5e5e5e" stroke-width="1.2"/>
<circle cx="678.5" cy="304.8" r="41.9" fill="#bcf63a"/>
<path d="M628,255C633.17,244.17 653.45,252.4 659,255C664.55,257.6 660.3,267.1 661.3,270.6C662.3,274.1 663.77,274.18 665,276C666.23,277.82 667.43,279.53 668.7,281.5C669.97,283.47 671.78,285.72 672.6,287.8C673.42,289.88 674.32,292.25 673.6,294C672.88,295.75 670.98,297.22 668.3,298.3C665.62,299.38 660,299.83 657.5,300.5C655,301.17 654.7,301.08 653.3,302.3C651.9,303.52 650.72,305.72 649.1,307.8C647.48,309.88 645.3,313.18 643.6,314.8C641.9,316.42 641.5,316.63 638.9,317.5C636.3,318.37 629.82,330.42 628,320C626.18,309.58 622.83,265.83 628,255 Z" fill="#ffee00" clip-path="url(#chn)" stroke="#606020" stroke-width="0.55" stroke-opacity="0.55"/>
<path d="M690,255C696.67,253.17 723.33,245.5 730,255C736.67,264.5 731.7,302.93 730,312C728.3,321.07 722.67,310.1 719.8,309.4C716.93,308.7 714.58,308.88 712.8,307.8C711.02,306.72 710.07,305.15 709.1,302.9C708.13,300.65 707.72,297.53 707,294.3C706.28,291.07 705.88,286.73 704.8,283.5C703.72,280.27 701.93,277.68 700.5,274.9C699.07,272.12 697.95,268.28 696.2,266.8C694.45,265.32 691.03,267.97 690,266C688.97,264.03 683.33,256.83 690,255 Z" fill="#ffee00" clip-path="url(#chn)" stroke="#606020" stroke-width="0.55" stroke-opacity="0.55"/>
<path d="M655,255C661.67,252.92 692.5,252.92 700,255C707.5,257.08 701.67,265.17 700,267.5C698.33,269.83 693.33,268.83 690,269C686.67,269.17 683.67,268.67 680,268.5C676.33,268.33 671.33,268.17 668,268C664.67,267.83 662.17,269.67 660,267.5C657.83,265.33 648.33,257.08 655,255 Z" fill="#ffee00" clip-path="url(#chn)" stroke="#606020" stroke-width="0.55" stroke-opacity="0.55"/>
<ellipse cx="686" cy="279.8" rx="8.8" ry="6.6" transform="rotate(18 686 279.8)" fill="#80f070" stroke="#606020" stroke-width="0.55" stroke-opacity="0.55"/>
<ellipse cx="687.6" cy="294.8" rx="5.9" ry="4.2" fill="#ffee00" clip-path="url(#chn)" stroke="#606020" stroke-width="0.55" stroke-opacity="0.55"/>
<ellipse cx="659.7" cy="291.4" rx="4" ry="3.9" fill="#ffc400" clip-path="url(#chn)" stroke="#606020" stroke-width="0.55" stroke-opacity="0.55"/>
<ellipse cx="638" cy="294" rx="3.2" ry="5.5" fill="#ffc400" clip-path="url(#chn)"/>
<ellipse cx="717.5" cy="300" rx="3" ry="6" fill="#ffc400" clip-path="url(#chn)"/>
<path d="M614,321 L634,321 L636,320 L642.2,319 L649,312 L653.3,308 L658.8,306.4 L665,306 L672,305.5 L680,304.6 L688,304 L699,301 L705,306 L712.8,312 L719,313 L724,313 L744,313 L744,400 L614,400Z" fill="#80f070" clip-path="url(#chn)"/>
<path d="M614,323 L634,323 L636,322 L642.2,321 L650,317 L658.8,313.4 L665,311.5 L672,310 L680,309 L690,307.5 L699,306.4 L706,310 L712.8,315 L724,317 L744,317 L744,400 L614,400Z" fill="#42eeb4" clip-path="url(#chn)"/>
<path d="M614,326 L634,326 L636,325 L642.2,324 L650,322 L658.8,320.3 L665,320 L672,320.5 L680,319.4 L690,318.5 L699,317.5 L706,318.5 L712.8,320 L724,321 L744,321 L744,400 L614,400Z" fill="#26e2ee" clip-path="url(#chn)"/>
<path d="M614,330 L634,330 L636,329 L642.2,328 L650,327 L658.8,325.9 L665,327 L672,327.5 L680,327 L690,325.5 L699,324.5 L712.8,324.5 L724,324 L744,324 L744,400 L614,400Z" fill="#12b0f8" clip-path="url(#chn)"/>
<path d="M614,334 L634,334 L636,333 L645,333 L658.8,330 L665,331.5 L672,332.8 L680,332.8 L690,331.5 L699,330 L712.8,327.3 L724,327 L744,327 L744,400 L614,400Z" fill="#0858f8" clip-path="url(#chn)"/>
<path d="M614,340 L634,340 L636,339 L650,339 L658.8,338.4 L665,340 L672,340.2 L680,340.2 L690,339.5 L699,338.4 L706,336.5 L712.8,334.2 L724,331 L744,331 L744,400 L614,400Z" fill="#0418dc" clip-path="url(#chn)"/>
<path d="M620,344.5 L640,344.5 L655,345.5 L670,347 L680,347.5 L692,346 L704,342 L714,337 L724,333 L744,333 L744,400 L620,400Z" fill="#0000a4" clip-path="url(#chn)"/>
<path d="M634,321C634.33,320.83 634.63,320.33 636,320C637.37,319.67 640.03,320.33 642.2,319C644.37,317.67 647.15,313.83 649,312C650.85,310.17 651.67,308.93 653.3,308C654.93,307.07 656.85,306.73 658.8,306.4C660.75,306.07 662.8,306.15 665,306C667.2,305.85 669.5,305.73 672,305.5C674.5,305.27 677.33,304.85 680,304.6C682.67,304.35 684.83,304.6 688,304C691.17,303.4 696.17,300.67 699,301C701.83,301.33 702.7,304.17 705,306C707.3,307.83 710.47,310.83 712.8,312C715.13,313.17 717.13,312.83 719,313C720.87,313.17 723.17,313 724,313" fill="none" stroke="#3c3c3c" stroke-width="0.5" stroke-opacity="0.45" clip-path="url(#chn)"/>
<path d="M634,323C634.33,322.83 634.63,322.33 636,322C637.37,321.67 639.87,321.83 642.2,321C644.53,320.17 647.23,318.27 650,317C652.77,315.73 656.3,314.32 658.8,313.4C661.3,312.48 662.8,312.07 665,311.5C667.2,310.93 669.5,310.42 672,310C674.5,309.58 677,309.42 680,309C683,308.58 686.83,307.93 690,307.5C693.17,307.07 696.33,305.98 699,306.4C701.67,306.82 703.7,308.57 706,310C708.3,311.43 709.8,313.83 712.8,315C715.8,316.17 722.13,316.67 724,317" fill="none" stroke="#3c3c3c" stroke-width="0.5" stroke-opacity="0.45" clip-path="url(#chn)"/>
<path d="M634,326C634.33,325.83 634.63,325.33 636,325C637.37,324.67 639.87,324.5 642.2,324C644.53,323.5 647.23,322.62 650,322C652.77,321.38 656.3,320.63 658.8,320.3C661.3,319.97 662.8,319.97 665,320C667.2,320.03 669.5,320.6 672,320.5C674.5,320.4 677,319.73 680,319.4C683,319.07 686.83,318.82 690,318.5C693.17,318.18 696.33,317.5 699,317.5C701.67,317.5 703.7,318.08 706,318.5C708.3,318.92 709.8,319.58 712.8,320C715.8,320.42 722.13,320.83 724,321" fill="none" stroke="#3c3c3c" stroke-width="0.5" stroke-opacity="0.45" clip-path="url(#chn)"/>
<path d="M634,330C634.33,329.83 634.63,329.33 636,329C637.37,328.67 639.87,328.33 642.2,328C644.53,327.67 647.23,327.35 650,327C652.77,326.65 656.3,325.9 658.8,325.9C661.3,325.9 662.8,326.73 665,327C667.2,327.27 669.5,327.5 672,327.5C674.5,327.5 677,327.33 680,327C683,326.67 686.83,325.92 690,325.5C693.17,325.08 695.2,324.67 699,324.5C702.8,324.33 708.63,324.58 712.8,324.5C716.97,324.42 722.13,324.08 724,324" fill="none" stroke="#3c3c3c" stroke-width="0.5" stroke-opacity="0.45" clip-path="url(#chn)"/>
<path d="M634,334C634.33,333.83 634.17,333.17 636,333C637.83,332.83 641.2,333.5 645,333C648.8,332.5 655.47,330.25 658.8,330C662.13,329.75 662.8,331.03 665,331.5C667.2,331.97 669.5,332.58 672,332.8C674.5,333.02 677,333.02 680,332.8C683,332.58 686.83,331.97 690,331.5C693.17,331.03 695.2,330.7 699,330C702.8,329.3 708.63,327.8 712.8,327.3C716.97,326.8 722.13,327.05 724,327" fill="none" stroke="#3c3c3c" stroke-width="0.5" stroke-opacity="0.45" clip-path="url(#chn)"/>
<path d="M634,340C634.33,339.83 633.33,339.17 636,339C638.67,338.83 646.2,339.1 650,339C653.8,338.9 656.3,338.23 658.8,338.4C661.3,338.57 662.8,339.7 665,340C667.2,340.3 669.5,340.17 672,340.2C674.5,340.23 677,340.32 680,340.2C683,340.08 686.83,339.8 690,339.5C693.17,339.2 696.33,338.9 699,338.4C701.67,337.9 703.7,337.2 706,336.5C708.3,335.8 709.8,335.12 712.8,334.2C715.8,333.28 722.13,331.53 724,331" fill="none" stroke="#3c3c3c" stroke-width="0.5" stroke-opacity="0.45" clip-path="url(#chn)"/>
<circle cx="678.5" cy="304.8" r="41.9" fill="none" stroke="#3a3a2e" stroke-width="1"/>
<line x1="633.2" y1="295.6" x2="636.9" y2="295.6" stroke="#75758a" stroke-width="1.3"/>
<line x1="633.2" y1="315.6" x2="636.9" y2="315.6" stroke="#75758a" stroke-width="1.3"/>
<line x1="723.8" y1="295.6" x2="720.1" y2="295.6" stroke="#75758a" stroke-width="1.3"/>
<line x1="723.8" y1="315.6" x2="720.1" y2="315.6" stroke="#75758a" stroke-width="1.3"/>
<line x1="672.1" y1="263.5" x2="674.4" y2="260.3" stroke="#5e5e5e" stroke-width="1.2"/>
<line x1="681.9" y1="260.3" x2="684.4" y2="263.5" stroke="#5e5e5e" stroke-width="1.2"/>
<rect x="735.9" y="207.6" width="10.5" height="114.6" fill="url(#jet)" stroke="#2a2a3a" stroke-width="0.7"/>
<text x="756" y="207.2" font-size="12" font-weight="bold" fill="#1e1e1e" text-anchor="start" stroke="#1e1e1e" stroke-width="0.25">+1 µV</text>
<text x="756" y="325.8" font-size="12" font-weight="bold" fill="#1e1e1e" text-anchor="start" stroke="#1e1e1e" stroke-width="0.25">-1</text>
<text x="595.9" y="214.9" font-size="11.3" font-weight="bold" fill="#1e1e1e" text-anchor="start" stroke="#1e1e1e" stroke-width="0.25">F - N</text>
<text x="595.9" y="298.2" font-size="11.3" font-weight="bold" fill="#1e1e1e" text-anchor="start" stroke="#1e1e1e" stroke-width="0.25">H - N</text>
<text x="661.5" y="366.5" font-size="11.4" font-weight="bold" fill="#1e1e1e" text-anchor="start" stroke="#1e1e1e" stroke-width="0.25">200ms</text>
<text x="19.3" y="410.3" font-size="16.6" font-weight="bold" fill="#1e1e1e" text-anchor="start" textLength="14" lengthAdjust="spacingAndGlyphs" stroke="#1e1e1e" stroke-width="0.25">C.</text>
<text x="56.9" y="415.2" font-size="12" font-weight="bold" fill="#1e1e1e" text-anchor="start" stroke="#1e1e1e" stroke-width="0.25">µV</text>
<line x1="93.6" y1="512.6" x2="258.4" y2="512.6" stroke="#d6d6d6" stroke-width="1"/>
<line x1="93.6" y1="469.7" x2="258.4" y2="469.7" stroke="#d6d6d6" stroke-width="1"/>
<line x1="93.6" y1="426.8" x2="258.4" y2="426.8" stroke="#d6d6d6" stroke-width="1"/>
<line x1="93.6" y1="555.5" x2="258.4" y2="555.5" stroke="#c4c4c4" stroke-width="1"/>
<line x1="93.6" y1="426.3" x2="93.6" y2="556" stroke="#c4c4c4" stroke-width="1"/>
<text x="82.8" y="557.7" font-size="10.8" font-weight="normal" fill="#595959" text-anchor="end">0</text>
<text x="82.8" y="514.8" font-size="10.8" font-weight="normal" fill="#595959" text-anchor="end">2</text>
<text x="82.8" y="471.9" font-size="10.8" font-weight="normal" fill="#595959" text-anchor="end">4</text>
<text x="82.8" y="429" font-size="10.8" font-weight="normal" fill="#595959" text-anchor="end">6</text>
<text x="114.2" y="573.7" font-size="11" font-weight="normal" fill="#595959" text-anchor="middle" textLength="9.8" lengthAdjust="spacingAndGlyphs">LE</text>
<rect x="101.45" y="444.2" width="7.1" height="111.3" fill="#e046c8"/>
<line x1="105" y1="444.2" x2="105" y2="433.3" stroke="#c470b8" stroke-width="1.3"/>
<line x1="102.1" y1="433.3" x2="107.9" y2="433.3" stroke="#c470b8" stroke-width="1.4"/>
<rect x="110.35" y="441.2" width="7.1" height="114.3" fill="#1632c6"/>
<line x1="113.9" y1="441.2" x2="113.9" y2="432.5" stroke="#2c3c78" stroke-width="1.3"/>
<line x1="111" y1="432.5" x2="116.8" y2="432.5" stroke="#2c3c78" stroke-width="1.4"/>
<rect x="119.4" y="436.5" width="7.1" height="119" fill="#16d2ec"/>
<line x1="122.95" y1="436.5" x2="122.95" y2="427.5" stroke="#52c4d4" stroke-width="1.3"/>
<line x1="120.05" y1="427.5" x2="125.85" y2="427.5" stroke="#52c4d4" stroke-width="1.4"/>
<text x="155.4" y="573.7" font-size="11" font-weight="normal" fill="#595959" text-anchor="middle" textLength="11" lengthAdjust="spacingAndGlyphs">RE</text>
<rect x="142.65" y="449.8" width="7.1" height="105.7" fill="#e046c8"/>
<line x1="146.2" y1="449.8" x2="146.2" y2="439" stroke="#c470b8" stroke-width="1.3"/>
<line x1="143.3" y1="439" x2="149.1" y2="439" stroke="#c470b8" stroke-width="1.4"/>
<rect x="151.55" y="443.5" width="7.1" height="112" fill="#1632c6"/>
<line x1="155.1" y1="443.5" x2="155.1" y2="433.5" stroke="#2c3c78" stroke-width="1.3"/>
<line x1="152.2" y1="433.5" x2="158" y2="433.5" stroke="#2c3c78" stroke-width="1.4"/>
<rect x="160.6" y="438.5" width="7.1" height="117" fill="#16d2ec"/>
<line x1="164.15" y1="438.5" x2="164.15" y2="426.5" stroke="#52c4d4" stroke-width="1.3"/>
<line x1="161.25" y1="426.5" x2="167.05" y2="426.5" stroke="#52c4d4" stroke-width="1.4"/>
<text x="196.6" y="573.7" font-size="11" font-weight="normal" fill="#595959" text-anchor="middle" textLength="12.4" lengthAdjust="spacingAndGlyphs">No</text>
<rect x="183.85" y="438.5" width="7.1" height="117" fill="#e046c8"/>
<line x1="187.4" y1="438.5" x2="187.4" y2="427.5" stroke="#c470b8" stroke-width="1.3"/>
<line x1="184.5" y1="427.5" x2="190.3" y2="427.5" stroke="#c470b8" stroke-width="1.4"/>
<rect x="192.75" y="441.5" width="7.1" height="114" fill="#1632c6"/>
<line x1="196.3" y1="441.5" x2="196.3" y2="430.5" stroke="#2c3c78" stroke-width="1.3"/>
<line x1="193.4" y1="430.5" x2="199.2" y2="430.5" stroke="#2c3c78" stroke-width="1.4"/>
<rect x="201.8" y="432.8" width="7.1" height="122.7" fill="#16d2ec"/>
<line x1="205.35" y1="432.8" x2="205.35" y2="422.8" stroke="#52c4d4" stroke-width="1.3"/>
<line x1="202.45" y1="422.8" x2="208.25" y2="422.8" stroke="#52c4d4" stroke-width="1.4"/>
<text x="237.8" y="573.7" font-size="11" font-weight="normal" fill="#595959" text-anchor="middle" textLength="14.6" lengthAdjust="spacingAndGlyphs">Mo</text>
<rect x="225.05" y="453.2" width="7.1" height="102.3" fill="#e046c8"/>
<line x1="228.6" y1="453.2" x2="228.6" y2="442.5" stroke="#c470b8" stroke-width="1.3"/>
<line x1="225.7" y1="442.5" x2="231.5" y2="442.5" stroke="#c470b8" stroke-width="1.4"/>
<rect x="233.95" y="451.8" width="7.1" height="103.7" fill="#1632c6"/>
<line x1="237.5" y1="451.8" x2="237.5" y2="440.8" stroke="#2c3c78" stroke-width="1.3"/>
<line x1="234.6" y1="440.8" x2="240.4" y2="440.8" stroke="#2c3c78" stroke-width="1.4"/>
<rect x="243" y="431" width="7.1" height="124.5" fill="#16d2ec"/>
<line x1="246.55" y1="431" x2="246.55" y2="421.2" stroke="#52c4d4" stroke-width="1.3"/>
<line x1="243.65" y1="421.2" x2="249.45" y2="421.2" stroke="#52c4d4" stroke-width="1.4"/>
<text x="172.5" y="592.8" font-size="11" font-weight="bold" fill="#262626" text-anchor="middle" stroke="#262626" stroke-width="0.25">200-250ms</text>
<line x1="306" y1="512.6" x2="472.3" y2="512.6" stroke="#d6d6d6" stroke-width="1"/>
<line x1="306" y1="469.7" x2="472.3" y2="469.7" stroke="#d6d6d6" stroke-width="1"/>
<line x1="306" y1="426.8" x2="472.3" y2="426.8" stroke="#d6d6d6" stroke-width="1"/>
<line x1="306" y1="555.5" x2="472.3" y2="555.5" stroke="#c4c4c4" stroke-width="1"/>
<line x1="306" y1="426.3" x2="306" y2="556" stroke="#c4c4c4" stroke-width="1"/>
<text x="295.2" y="557.7" font-size="10.8" font-weight="normal" fill="#595959" text-anchor="end">0</text>
<text x="295.2" y="514.8" font-size="10.8" font-weight="normal" fill="#595959" text-anchor="end">2</text>
<text x="295.2" y="471.9" font-size="10.8" font-weight="normal" fill="#595959" text-anchor="end">4</text>
<text x="295.2" y="429" font-size="10.8" font-weight="normal" fill="#595959" text-anchor="end">6</text>
<text x="326.79" y="573.7" font-size="11" font-weight="normal" fill="#595959" text-anchor="middle" textLength="9.8" lengthAdjust="spacingAndGlyphs">LE</text>
<rect x="313.9" y="480.3" width="7.1" height="75.2" fill="#e046c8"/>
<line x1="317.45" y1="480.3" x2="317.45" y2="469.2" stroke="#c470b8" stroke-width="1.3"/>
<line x1="314.55" y1="469.2" x2="320.35" y2="469.2" stroke="#c470b8" stroke-width="1.4"/>
<rect x="322.8" y="473.2" width="7.1" height="82.3" fill="#1632c6"/>
<line x1="326.35" y1="473.2" x2="326.35" y2="463" stroke="#2c3c78" stroke-width="1.3"/>
<line x1="323.45" y1="463" x2="329.25" y2="463" stroke="#2c3c78" stroke-width="1.4"/>
<rect x="332" y="471.2" width="7.1" height="84.3" fill="#16d2ec"/>
<line x1="335.55" y1="471.2" x2="335.55" y2="461.5" stroke="#52c4d4" stroke-width="1.3"/>
<line x1="332.65" y1="461.5" x2="338.45" y2="461.5" stroke="#52c4d4" stroke-width="1.4"/>
<text x="368.36" y="573.7" font-size="11" font-weight="normal" fill="#595959" text-anchor="middle" textLength="11" lengthAdjust="spacingAndGlyphs">RE</text>
<rect x="355.47" y="484.3" width="7.1" height="71.2" fill="#e046c8"/>
<line x1="359.02" y1="484.3" x2="359.02" y2="472.5" stroke="#c470b8" stroke-width="1.3"/>
<line x1="356.12" y1="472.5" x2="361.92" y2="472.5" stroke="#c470b8" stroke-width="1.4"/>
<rect x="364.38" y="478.8" width="7.1" height="76.7" fill="#1632c6"/>
<line x1="367.93" y1="478.8" x2="367.93" y2="468.5" stroke="#2c3c78" stroke-width="1.3"/>
<line x1="365.03" y1="468.5" x2="370.82" y2="468.5" stroke="#2c3c78" stroke-width="1.4"/>
<rect x="373.57" y="476.2" width="7.1" height="79.3" fill="#16d2ec"/>
<line x1="377.12" y1="476.2" x2="377.12" y2="464" stroke="#52c4d4" stroke-width="1.3"/>
<line x1="374.23" y1="464" x2="380.02" y2="464" stroke="#52c4d4" stroke-width="1.4"/>
<text x="409.94" y="573.7" font-size="11" font-weight="normal" fill="#595959" text-anchor="middle" textLength="12.4" lengthAdjust="spacingAndGlyphs">No</text>
<rect x="397.05" y="485.2" width="7.1" height="70.3" fill="#e046c8"/>
<line x1="400.6" y1="485.2" x2="400.6" y2="474.2" stroke="#c470b8" stroke-width="1.3"/>
<line x1="397.7" y1="474.2" x2="403.5" y2="474.2" stroke="#c470b8" stroke-width="1.4"/>
<rect x="405.95" y="488.1" width="7.1" height="67.4" fill="#1632c6"/>
<line x1="409.5" y1="488.1" x2="409.5" y2="477.1" stroke="#2c3c78" stroke-width="1.3"/>
<line x1="406.6" y1="477.1" x2="412.4" y2="477.1" stroke="#2c3c78" stroke-width="1.4"/>
<rect x="415.15" y="476.8" width="7.1" height="78.7" fill="#16d2ec"/>
<line x1="418.7" y1="476.8" x2="418.7" y2="466.7" stroke="#52c4d4" stroke-width="1.3"/>
<line x1="415.8" y1="466.7" x2="421.6" y2="466.7" stroke="#52c4d4" stroke-width="1.4"/>
<text x="451.51" y="573.7" font-size="11" font-weight="normal" fill="#595959" text-anchor="middle" textLength="14.6" lengthAdjust="spacingAndGlyphs">Mo</text>
<rect x="438.62" y="474.8" width="7.1" height="80.7" fill="#e046c8"/>
<line x1="442.18" y1="474.8" x2="442.18" y2="464" stroke="#c470b8" stroke-width="1.3"/>
<line x1="439.28" y1="464" x2="445.07" y2="464" stroke="#c470b8" stroke-width="1.4"/>
<rect x="447.53" y="488.9" width="7.1" height="66.6" fill="#1632c6"/>
<line x1="451.08" y1="488.9" x2="451.08" y2="477.7" stroke="#2c3c78" stroke-width="1.3"/>
<line x1="448.18" y1="477.7" x2="453.98" y2="477.7" stroke="#2c3c78" stroke-width="1.4"/>
<rect x="456.73" y="467.3" width="7.1" height="88.2" fill="#16d2ec"/>
<line x1="460.28" y1="467.3" x2="460.28" y2="458" stroke="#52c4d4" stroke-width="1.3"/>
<line x1="457.38" y1="458" x2="463.18" y2="458" stroke="#52c4d4" stroke-width="1.4"/>
<text x="381.4" y="592.8" font-size="11" font-weight="bold" fill="#262626" text-anchor="middle" stroke="#262626" stroke-width="0.25">250-300ms</text>
<line x1="513.7" y1="512.6" x2="679.2" y2="512.6" stroke="#d6d6d6" stroke-width="1"/>
<line x1="513.7" y1="469.7" x2="679.2" y2="469.7" stroke="#d6d6d6" stroke-width="1"/>
<line x1="513.7" y1="426.8" x2="679.2" y2="426.8" stroke="#d6d6d6" stroke-width="1"/>
<line x1="513.7" y1="555.5" x2="679.2" y2="555.5" stroke="#c4c4c4" stroke-width="1"/>
<line x1="513.7" y1="426.3" x2="513.7" y2="556" stroke="#c4c4c4" stroke-width="1"/>
<text x="502.9" y="557.7" font-size="10.8" font-weight="normal" fill="#595959" text-anchor="end">0</text>
<text x="502.9" y="514.8" font-size="10.8" font-weight="normal" fill="#595959" text-anchor="end">2</text>
<text x="502.9" y="471.9" font-size="10.8" font-weight="normal" fill="#595959" text-anchor="end">4</text>
<text x="502.9" y="429" font-size="10.8" font-weight="normal" fill="#595959" text-anchor="end">6</text>
<text x="534.39" y="573.7" font-size="11" font-weight="normal" fill="#595959" text-anchor="middle" textLength="9.8" lengthAdjust="spacingAndGlyphs">LE</text>
<rect x="522.2" y="493.5" width="7.1" height="62" fill="#e046c8"/>
<line x1="525.75" y1="493.5" x2="525.75" y2="483.5" stroke="#c470b8" stroke-width="1.3"/>
<line x1="522.85" y1="483.5" x2="528.65" y2="483.5" stroke="#c470b8" stroke-width="1.4"/>
<rect x="531.2" y="496.2" width="7.1" height="59.3" fill="#1632c6"/>
<line x1="534.75" y1="496.2" x2="534.75" y2="486.5" stroke="#2c3c78" stroke-width="1.3"/>
<line x1="531.85" y1="486.5" x2="537.65" y2="486.5" stroke="#2c3c78" stroke-width="1.4"/>
<rect x="540.3" y="494.5" width="7.1" height="61" fill="#16d2ec"/>
<line x1="543.85" y1="494.5" x2="543.85" y2="483.5" stroke="#52c4d4" stroke-width="1.3"/>
<line x1="540.95" y1="483.5" x2="546.75" y2="483.5" stroke="#52c4d4" stroke-width="1.4"/>
<text x="575.76" y="573.7" font-size="11" font-weight="normal" fill="#595959" text-anchor="middle" textLength="11" lengthAdjust="spacingAndGlyphs">RE</text>
<rect x="563.58" y="501" width="7.1" height="54.5" fill="#e046c8"/>
<line x1="567.12" y1="501" x2="567.12" y2="491" stroke="#c470b8" stroke-width="1.3"/>
<line x1="564.23" y1="491" x2="570.02" y2="491" stroke="#c470b8" stroke-width="1.4"/>
<rect x="572.58" y="498.2" width="7.1" height="57.3" fill="#1632c6"/>
<line x1="576.12" y1="498.2" x2="576.12" y2="489.2" stroke="#2c3c78" stroke-width="1.3"/>
<line x1="573.23" y1="489.2" x2="579.02" y2="489.2" stroke="#2c3c78" stroke-width="1.4"/>
<rect x="581.68" y="494.5" width="7.1" height="61" fill="#16d2ec"/>
<line x1="585.23" y1="494.5" x2="585.23" y2="482.5" stroke="#52c4d4" stroke-width="1.3"/>
<line x1="582.33" y1="482.5" x2="588.12" y2="482.5" stroke="#52c4d4" stroke-width="1.4"/>
<text x="617.14" y="573.7" font-size="11" font-weight="normal" fill="#595959" text-anchor="middle" textLength="12.4" lengthAdjust="spacingAndGlyphs">No</text>
<rect x="604.95" y="493.7" width="7.1" height="61.8" fill="#e046c8"/>
<line x1="608.5" y1="493.7" x2="608.5" y2="482.7" stroke="#c470b8" stroke-width="1.3"/>
<line x1="605.6" y1="482.7" x2="611.4" y2="482.7" stroke="#c470b8" stroke-width="1.4"/>
<rect x="613.95" y="493.9" width="7.1" height="61.6" fill="#1632c6"/>
<line x1="617.5" y1="493.9" x2="617.5" y2="483.5" stroke="#2c3c78" stroke-width="1.3"/>
<line x1="614.6" y1="483.5" x2="620.4" y2="483.5" stroke="#2c3c78" stroke-width="1.4"/>
<rect x="623.05" y="485.2" width="7.1" height="70.3" fill="#16d2ec"/>
<line x1="626.6" y1="485.2" x2="626.6" y2="474.5" stroke="#52c4d4" stroke-width="1.3"/>
<line x1="623.7" y1="474.5" x2="629.5" y2="474.5" stroke="#52c4d4" stroke-width="1.4"/>
<text x="658.51" y="573.7" font-size="11" font-weight="normal" fill="#595959" text-anchor="middle" textLength="14.6" lengthAdjust="spacingAndGlyphs">Mo</text>
<rect x="646.33" y="486.4" width="7.1" height="69.1" fill="#e046c8"/>
<line x1="649.88" y1="486.4" x2="649.88" y2="476.3" stroke="#c470b8" stroke-width="1.3"/>
<line x1="646.98" y1="476.3" x2="652.77" y2="476.3" stroke="#c470b8" stroke-width="1.4"/>
<rect x="655.33" y="501.2" width="7.1" height="54.3" fill="#1632c6"/>
<line x1="658.88" y1="501.2" x2="658.88" y2="490.2" stroke="#2c3c78" stroke-width="1.3"/>
<line x1="655.98" y1="490.2" x2="661.77" y2="490.2" stroke="#2c3c78" stroke-width="1.4"/>
<rect x="664.43" y="471.1" width="7.1" height="84.4" fill="#16d2ec"/>
<line x1="667.98" y1="471.1" x2="667.98" y2="461.9" stroke="#52c4d4" stroke-width="1.3"/>
<line x1="665.08" y1="461.9" x2="670.88" y2="461.9" stroke="#52c4d4" stroke-width="1.4"/>
<text x="595.3" y="592.8" font-size="11" font-weight="bold" fill="#262626" text-anchor="middle" stroke="#262626" stroke-width="0.25">300-350ms</text>
<path d="M145.8,430 V398.6 H165.6 V425.2" fill="none" stroke="#383838" stroke-width="1.3"/>
<path d="M223.8,414.6 H240.1 M228.5,414.6 V397.6 H247.5 V412.3" fill="none" stroke="#383838" stroke-width="1.3"/>
<path d="M409.3,472.5 V439.6 H418.5 V454.6" fill="none" stroke="#383838" stroke-width="1.3"/>
<path d="M436.8,456.7 H453.3 M441.7,456.7 V439.6 H460.5 V454.2" fill="none" stroke="#383838" stroke-width="1.3"/>
<path d="M644.4,464.2 H660.2 M648.5,464.2 V441.6 H667.4 V457.5" fill="none" stroke="#383838" stroke-width="1.3"/>
<text x="154.35" y="393.2" font-size="13.5" font-weight="bold" fill="#303030" text-anchor="middle" stroke="#303030" stroke-width="0.25">*</text>
<text x="239" y="393.7" font-size="13.5" font-weight="bold" fill="#303030" text-anchor="middle" stroke="#303030" stroke-width="0.25">*</text>
<text x="413.8" y="421.5" font-size="13.5" font-weight="bold" fill="#303030" text-anchor="middle" stroke="#303030" stroke-width="0.25">*</text>
<text x="451" y="421.5" font-size="13.5" font-weight="bold" fill="#303030" text-anchor="middle" stroke="#303030" stroke-width="0.25">*</text>
<text x="655.9" y="426.5" font-size="13.5" font-weight="bold" fill="#303030" text-anchor="middle" stroke="#303030" stroke-width="0.25">*</text>
<rect x="702.1" y="467" width="18" height="4.6" fill="#e010e0"/>
<text x="733.2" y="475.6" font-size="12" font-weight="bold" fill="#1e1e1e" text-anchor="start" textLength="37.1" lengthAdjust="spacingAndGlyphs" stroke="#1e1e1e" stroke-width="0.25">Fearful</text>
<rect x="702.1" y="484.8" width="18" height="4.6" fill="#0a10d0"/>
<text x="733.2" y="491.3" font-size="12" font-weight="bold" fill="#1e1e1e" text-anchor="start" textLength="36.2" lengthAdjust="spacingAndGlyphs" stroke="#1e1e1e" stroke-width="0.25">Happy</text>
<rect x="702.1" y="501.7" width="18" height="4.6" fill="#18e0e8"/>
<text x="733.2" y="506.6" font-size="12" font-weight="bold" fill="#1e1e1e" text-anchor="start" textLength="41" lengthAdjust="spacingAndGlyphs" stroke="#1e1e1e" stroke-width="0.25">Neutral</text>
</svg>
</body></html>
